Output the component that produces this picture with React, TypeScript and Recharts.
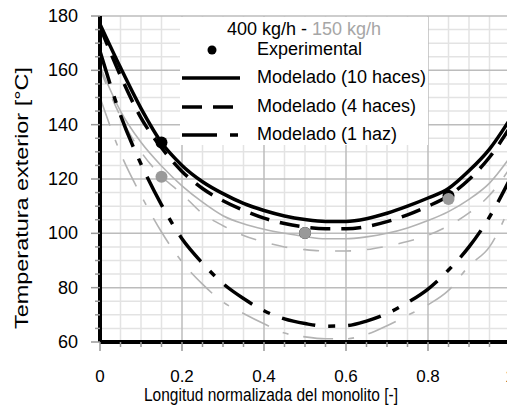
import { ComposedChart, Line, ReferenceLine, Scatter, XAxis, YAxis } from 'recharts'

// normalised monolith length
const X = [0, 0.05, 0.1, 0.15, 0.2, 0.25, 0.3, 0.35, 0.4, 0.45, 0.5, 0.55, 0.6, 0.65, 0.7, 0.75, 0.8, 0.85, 0.9, 0.95, 1]

// 400 kg/h
const S400 = [177, 161, 146, 133.4, 125, 119, 114.6, 111, 108.4, 106.4, 105.1, 104.4, 104.4, 105.4, 107.4, 110, 113, 116.5, 123, 131, 142]
const D400 = [176, 158, 142.5, 131.5, 122.8, 116.5, 112, 108.5, 105.6, 103.6, 102.3, 101.7, 101.7, 102.5, 104.3, 106.8, 110, 113.8, 119.8, 128, 139]
const DD400 = [167, 143.5, 125.5, 110.5, 98, 89, 81.5, 76, 71.5, 68.5, 66.8, 65.8, 66, 67.7, 70.5, 74.5, 79.5, 86.5, 95, 106, 120]

// 150 kg/h
const S150 = [161.5, 145, 133.5, 124.8, 117.5, 111.5, 106.5, 103.5, 101.5, 100, 98.8, 98, 98, 98.7, 100, 102, 104.7, 108, 112.5, 118.5, 128]
const D150 = [160.5, 143, 130, 121, 114.5, 107.3, 102.8, 99.2, 96.8, 95, 94, 93.5, 93.5, 94, 95.3, 97, 99.3, 102.8, 107.5, 114, 124]
const DD150 = [150, 129.5, 114, 100.5, 89.5, 81.3, 74.7, 70.5, 66.7, 63.3, 61.9, 61.2, 61.2, 62.8, 66, 69.8, 73.7, 79, 88, 95, 110]

// experimental points
const EXP_X = [0.15, 0.5, 0.85]
const EXP400 = [133.4, 100.1, 113.8]
const EXP150 = [120.8, 100.1, 112.6]

const X_TICKS = [0, 0.2, 0.4, 0.6, 0.8, 1]
const Y_TICKS = [60, 80, 100, 120, 140, 160, 180]
const X_MINOR = Array.from({ length: 21 }, (_, i) => Math.round(i * 5) / 100)
const Y_MINOR = Array.from({ length: 25 }, (_, i) => 60 + i * 5)

const table = X.map((x, i) => ({
  x,
  s400: S400[i],
  d400: D400[i],
  dd400: DD400[i],
  s150: S150[i],
  d150: D150[i],
  dd150: DD150[i],
}))
const exp400 = EXP_X.map((x, i) => ({ x, y: EXP400[i] }))
const exp150 = EXP_X.map((x, i) => ({ x, y: EXP150[i] }))

const FONT = 'Liberation Sans, Arial, sans-serif'
const GRAY = '#b3b3b3'
const PLOT_LEFT = 100
const PLOT_BOTTOM = 342

const isMajorX = (v: number) => X_TICKS.some((t) => Math.abs(t - v) < 1e-6)
const isMajorY = (v: number) => Y_TICKS.includes(v)
const fmtX = (v: number) => (v === 0 ? '0' : v === 1 ? '1' : v.toFixed(1))

function XTick(props: any) {
  const { x, payload } = props
  const major = isMajorX(payload.value)
  return (
    <g>
      <line x1={x} x2={x} y1={PLOT_BOTTOM} y2={PLOT_BOTTOM + (major ? 9 : 5)} stroke="#999" strokeWidth={1.5} />
      {major && (
        <text x={x} y={382} textAnchor="middle" fontSize={17} fontFamily={FONT} fill="#000">
          {fmtX(payload.value)}
        </text>
      )}
    </g>
  )
}

function YTick(props: any) {
  const { y, payload } = props
  const major = isMajorY(payload.value)
  return (
    <g>
      <line x1={PLOT_LEFT - (major ? 9 : 5)} x2={PLOT_LEFT} y1={y} y2={y} stroke="#999" strokeWidth={1.5} />
      {major && (
        <text x={78} y={y + 6} textAnchor="end" fontSize={18} fontFamily={FONT} fill="#000">
          {payload.value}
        </text>
      )}
    </g>
  )
}

const dot = (fill: string) => (p: any) => <circle cx={p.cx} cy={p.cy} r={6} fill={fill} />

function LegendBox() {
  const rows = [
    { y: 61, dash: undefined, label: 'Modelado (10 haces)' },
    { y: 90, dash: '20 11', label: 'Modelado (4 haces)' },
    { y: 118, dash: '35 13 8 13', label: 'Modelado (1 haz)' },
  ]
  return (
    <svg
      width={248}
      height={128}
      style={{ position: 'absolute', left: 180, top: 17, background: '#fff' }}
      fontFamily={FONT}
      fontSize={18}
    >
      <text x={47} y={18} fill="#000">
        400 kg/h - <tspan fill="#a6a6a6">150 kg/h</tspan>
      </text>
      <circle cx={32} cy={33} r={4.5} fill="#000" />
      <text x={77} y={38} fill="#000">Experimental</text>
      {rows.map((r) => (
        <g key={r.label}>
          <line x1={2} x2={60} y1={r.y} y2={r.y} stroke="#000" strokeWidth={3.5} strokeDasharray={r.dash} />
          <text x={77} y={r.y + 5} fill="#000">
            {r.label}
          </text>
        </g>
      ))}
    </svg>
  )
}

export default function App() {
  return (
    <div style={{ position: 'absolute', left: 0, top: 0, width: 507, height: 410, overflow: 'hidden', background: '#fff' }}>
      <ComposedChart width={520} height={410} data={table} margin={{ top: 16, right: 10, bottom: 0, left: 0 }}>
        {X_MINOR.filter((v) => !isMajorX(v)).map((v) => (
          <ReferenceLine key={'vx' + v} x={v} stroke="#e3e3e3" strokeWidth={1.5} />
        ))}
        {Y_MINOR.filter((v) => !isMajorY(v)).map((v) => (
          <ReferenceLine key={'hy' + v} y={v} stroke="#e3e3e3" strokeWidth={1.5} />
        ))}
        {X_TICKS.map((v) => (
          <ReferenceLine key={'VX' + v} x={v} stroke="#bcbcbc" strokeWidth={1.5} />
        ))}
        {Y_TICKS.map((v) => (
          <ReferenceLine key={'HY' + v} y={v} stroke="#bcbcbc" strokeWidth={1.5} />
        ))}
        <XAxis
          type="number"
          dataKey="x"
          domain={[0, 1]}
          ticks={X_MINOR}
          interval={0}
          height={68}
          tickLine={false}
          tick={XTick}
          axisLine={{ stroke: '#000', strokeWidth: 4 }}
          allowDataOverflow
        />
        <YAxis
          type="number"
          domain={[60, 180]}
          ticks={Y_MINOR}
          interval={0}
          width={100}
          tickLine={false}
          tick={YTick}
          axisLine={{ stroke: '#000', strokeWidth: 4 }}
          allowDataOverflow
        />
        <Line dataKey="s150" type="monotone" stroke={GRAY} strokeWidth={1.6} dot={false} isAnimationActive={false} />
        <Line dataKey="d150" type="monotone" stroke={GRAY} strokeWidth={1.6} strokeDasharray="16 16" dot={false} isAnimationActive={false} />
        <Line dataKey="dd150" type="monotone" stroke={GRAY} strokeWidth={1.6} strokeDasharray="30 15 6 15" dot={false} isAnimationActive={false} />
        <Line dataKey="s400" type="monotone" stroke="#000" strokeWidth={3.5} dot={false} isAnimationActive={false} />
        <Line dataKey="d400" type="monotone" stroke="#000" strokeWidth={3.5} strokeDasharray="20 11" dot={false} isAnimationActive={false} />
        <Line dataKey="dd400" type="monotone" stroke="#000" strokeWidth={3.5} strokeDasharray="34 13 7 13" dot={false} isAnimationActive={false} />
        <Scatter data={exp400} dataKey="y" shape={dot('#000')} isAnimationActive={false} />
        <Scatter data={exp150} dataKey="y" shape={dot('#999')} isAnimationActive={false} />
      </ComposedChart>
      <LegendBox />
      <svg width={507} height={410} style={{ position: 'absolute', left: 0, top: 0, pointerEvents: 'none' }} fontFamily={FONT}>
        <text x={271} y={401} textAnchor="middle" fontSize={17.5} textLength={254} lengthAdjust="spacingAndGlyphs" fill="#000">
          Longitud normalizada del monolito [-]
        </text>
        <text
          transform="translate(28,198) rotate(-90)"
          textAnchor="middle"
          fontSize={19}
          textLength={262}
          lengthAdjust="spacingAndGlyphs"
          fill="#000"
        >
          Temperatura exterior [°C]
        </text>
      </svg>
    </div>
  )
}
